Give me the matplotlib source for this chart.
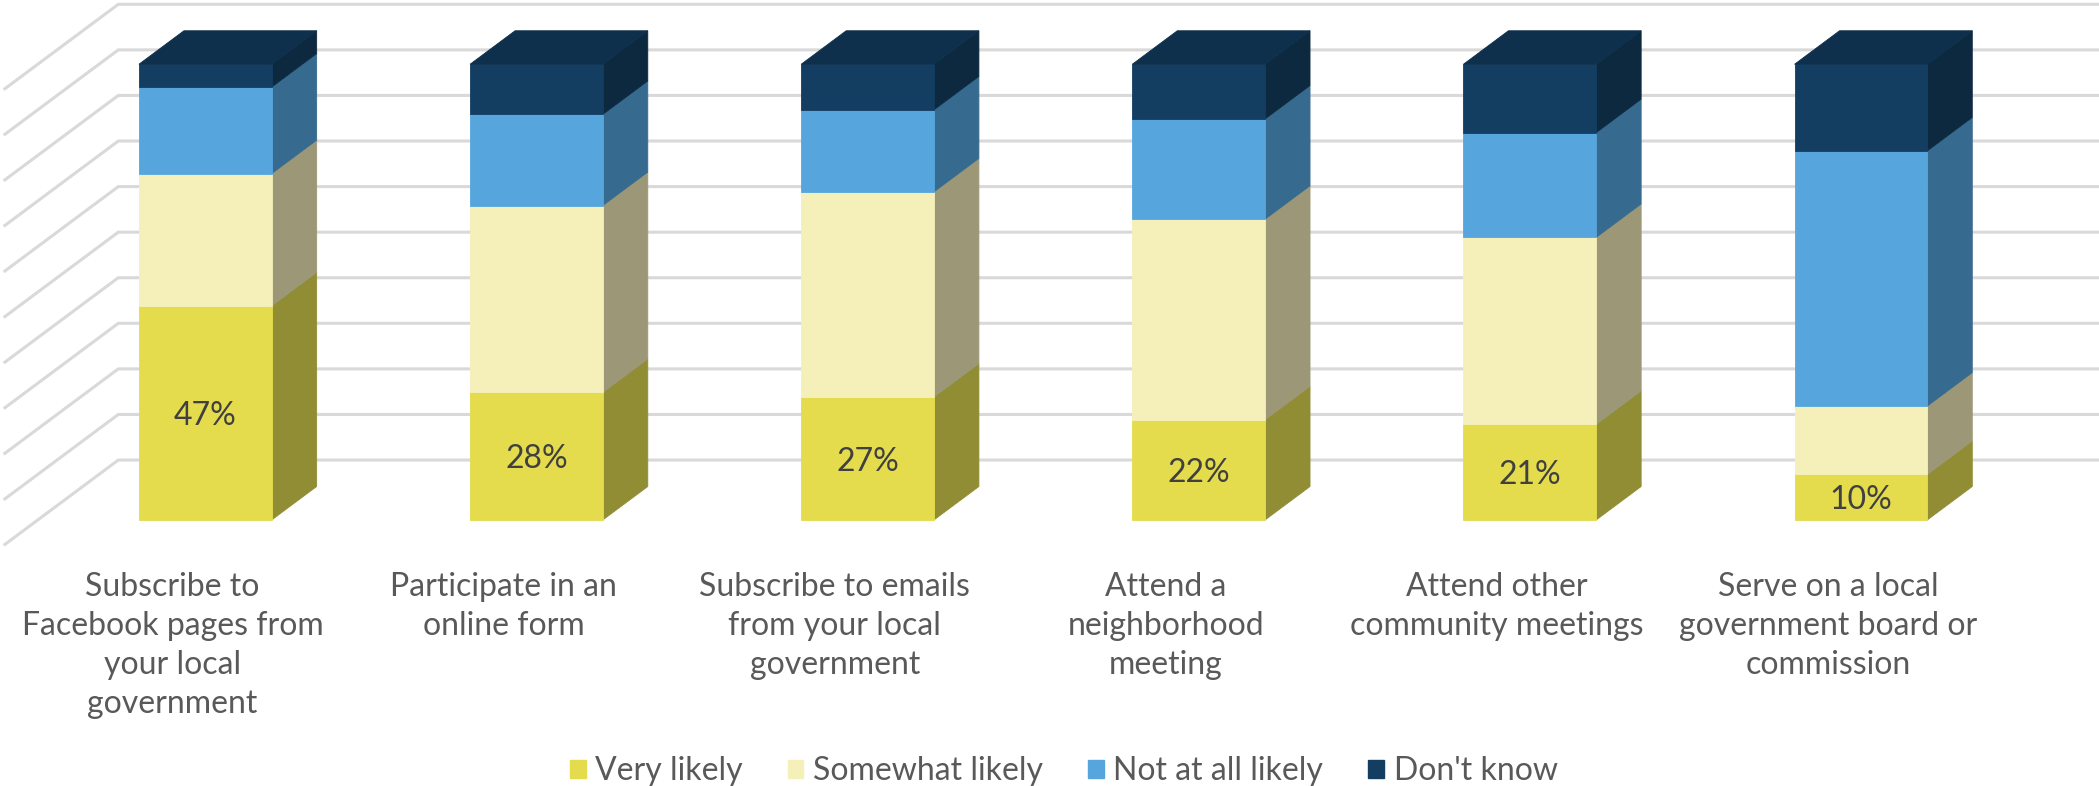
import numpy as np
import matplotlib.pyplot as plt
from matplotlib.patches import Polygon, Patch

plt.rcParams['font.family'] = ['Lato', 'DejaVu Sans']

categories = ["Subscribe to\nFacebook pages from\nyour local\ngovernment",
              "Participate in an\nonline form",
              "Subscribe to emails\nfrom your local\ngovernment",
              "Attend a\nneighborhood\nmeeting",
              "Attend other\ncommunity meetings",
              "Serve on a local\ngovernment board or\ncommission"]
series_names = ["Very likely", "Somewhat likely", "Not at all likely", "Don't know"]
very_likely = [47, 28, 27, 22, 21, 10]
somewhat_likely = [29, 41, 45, 44, 41, 15]
not_at_all_likely = [19, 20, 18, 22, 23, 56]
dont_know = [5, 11, 10, 12, 15, 19]

front_colors = ["#E4DC4C", "#F5F0B9", "#56A6DD", "#133E62"]
side_colors = ["#918D34", "#9C9877", "#366A8F", "#0C2940"]
top_color = "#0E304C"
grid_color = "#D9D9D9"
text_color = "#595959"

# oblique projection: depth z shifts right and up
dx, dy = 0.1359, 7.35
half_w = 0.2004
z_back = 1.79
z_front = -0.73
x_wall = -0.506


def P(x, v, z):
    return (x + z * dx, v + z * dy)


fig = plt.figure(figsize=(20.99, 7.86), dpi=100)
ax = fig.add_axes([0, 0, 1, 1])
ax.set_xlim(-0.620, 5.719)
ax.set_ylim(-58.37, 114.1)
ax.axis('off')

# back wall and side wall gridlines
for v in np.arange(0, 101, 10):
    a = P(x_wall, v, z_back)
    b = P(10, v, z_back)
    c = P(x_wall, v, z_front)
    ax.plot([c[0], a[0], b[0]], [c[1], a[1], b[1]], color=grid_color, lw=2.2,
            solid_joinstyle='miter', zorder=1)

data = np.array([very_likely, somewhat_likely, not_at_all_likely, dont_know])
cum = np.vstack([np.zeros(len(categories)), np.cumsum(data, axis=0)])

for i in range(len(categories)):
    x0, x1 = i - half_w, i + half_w
    for k in range(data.shape[0]):
        lo, hi = cum[k, i], cum[k + 1, i]
        front = [P(x0, lo, 0), P(x1, lo, 0), P(x1, hi, 0), P(x0, hi, 0)]
        side = [P(x1, lo, 0), P(x1, lo, 1), P(x1, hi, 1), P(x1, hi, 0)]
        ax.add_patch(Polygon(side, closed=True, fc=side_colors[k], ec=side_colors[k], lw=0.6, zorder=2))
        ax.add_patch(Polygon(front, closed=True, fc=front_colors[k], ec=front_colors[k], lw=0.6, zorder=3))
    top = cum[-1, i]
    top_face = [P(x0, top, 0), P(x1, top, 0), P(x1, top, 1), P(x0, top, 1)]
    ax.add_patch(Polygon(top_face, closed=True, fc=top_color, ec=top_color, lw=0.6, zorder=3))
    ax.text(i, very_likely[i] / 2 - 0.7, f"{very_likely[i]}%", ha='center', va='center',
            fontsize=23, color="#404040", zorder=4)
    lx, ly = P(i, -6.1, z_front)
    ax.text(lx, ly, categories[i], ha='center', va='top', fontsize=23,
            color=text_color, linespacing=1.37)

handles = [Patch(fc=c, ec=c) for c in front_colors]
fig.legend(handles, series_names, loc='center', bbox_to_anchor=(0.5067, 0.019),
           ncol=4, frameon=False, fontsize=23, labelcolor=text_color,
           handlelength=0.5, handleheight=0.5, handletextpad=0.3, columnspacing=1.4)

fig.savefig("out.png", dpi=100)
